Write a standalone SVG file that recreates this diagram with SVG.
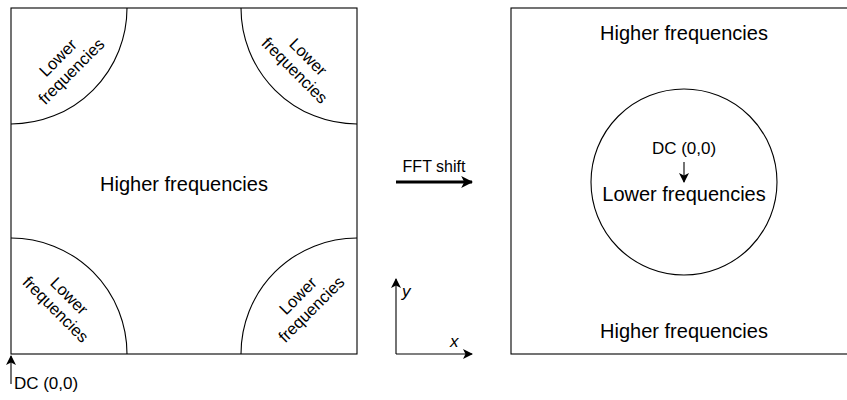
<svg xmlns="http://www.w3.org/2000/svg" width="847" height="400" viewBox="0 0 847 400">
  <style>
    .box { fill: #ffffff; stroke: #000000; stroke-width: 1.1; }
    .arc { fill: none; stroke: #000000; stroke-width: 1.1; }
    .lbl { font-family: "Liberation Sans", Arial, sans-serif; fill: #000000; text-anchor: middle; }
    .big { font-size: 20px; }
    .mid { font-size: 16px; }
    .dc { font-size: 17px; }
    .corner { font-size: 16.5px; }
    .axis { font-family: "Liberation Sans", Arial, sans-serif; font-style: italic; font-size: 17px; fill: #000000; }
    .line { fill: none; stroke: #000000; stroke-width: 1.1; }
  </style>
  <defs>
    <marker id="head" viewBox="0 0 10 10" refX="9" refY="5" markerWidth="10" markerHeight="10" markerUnits="userSpaceOnUse" orient="auto">
      <path d="M0,0 L10,5 L0,10 L2.5,5 Z" fill="#000000"/>
    </marker>
    <marker id="headBold" viewBox="0 0 10 10" refX="9" refY="5" markerWidth="12" markerHeight="12" markerUnits="userSpaceOnUse" orient="auto">
      <path d="M0,0 L10,5 L0,10 L2.5,5 Z" fill="#000000"/>
    </marker>
  </defs>

  <!-- unshifted spectrum: low frequencies sit in the four corners -->
  <g id="spectrum-unshifted">
    <rect class="box" x="11" y="8" width="346" height="346"/>
    <path class="arc" d="M127,8 A116,116 0 0 1 11,124"/>
    <path class="arc" d="M241,8 A116,116 0 0 0 357,124"/>
    <path class="arc" d="M11,238 A116,116 0 0 1 127,354"/>
    <path class="arc" d="M357,238 A116,116 0 0 0 241,354"/>
    <text class="lbl big" x="184" y="191">Higher frequencies</text>
    <text class="lbl corner" transform="translate(64,64) rotate(-45)"><tspan x="0" y="-3">Lower</tspan><tspan x="0" y="16">frequencies</tspan></text>
    <text class="lbl corner" transform="translate(302,63) rotate(45)"><tspan x="0" y="-3">Lower</tspan><tspan x="0" y="16">frequencies</tspan></text>
    <text class="lbl corner" transform="translate(63,302) rotate(45)"><tspan x="0" y="-3">Lower</tspan><tspan x="0" y="16">frequencies</tspan></text>
    <text class="lbl corner" transform="translate(304,302) rotate(-45)"><tspan x="0" y="-3">Lower</tspan><tspan x="0" y="16">frequencies</tspan></text>
  </g>

  <!-- origin marker below the unshifted spectrum -->
  <g id="origin-label">
    <text class="lbl dc" x="46" y="389">DC (0,0)</text>
  </g>

  <!-- shifted spectrum: low frequencies gathered in the centre -->
  <g id="spectrum-shifted">
    <rect class="box" x="511" y="8" width="346" height="346"/>
    <circle class="arc" cx="684" cy="182" r="93"/>
    <text class="lbl big" x="684" y="40">Higher frequencies</text>
    <text class="lbl big" x="684" y="338">Higher frequencies</text>
    <text class="lbl dc" x="684" y="154">DC (0,0)</text>
    <text class="lbl big" x="684" y="201">Lower frequencies</text>
  </g>

  <!-- transform label -->
  <g id="fft-shift-label">
    <text class="lbl mid" x="434" y="172">FFT shift</text>
  </g>

  <!-- axis legend -->
  <g id="axes-legend">
    <text class="axis" x="402" y="297">y</text>
    <text class="axis" x="450" y="347">x</text>
  </g>

  <g id="connectors">
    <line class="line" x1="11" y1="384" x2="11" y2="356" marker-end="url(#head)"/>
    <line class="line" x1="684" y1="162" x2="684" y2="182" marker-end="url(#head)"/>
    <line x1="396" y1="182" x2="472" y2="182" stroke="#000000" stroke-width="3" marker-end="url(#headBold)"/>
    <line class="line" x1="396" y1="354" x2="396" y2="279" marker-end="url(#head)"/>
    <line class="line" x1="396" y1="354" x2="472" y2="354" marker-end="url(#head)"/>
  </g>
</svg>
